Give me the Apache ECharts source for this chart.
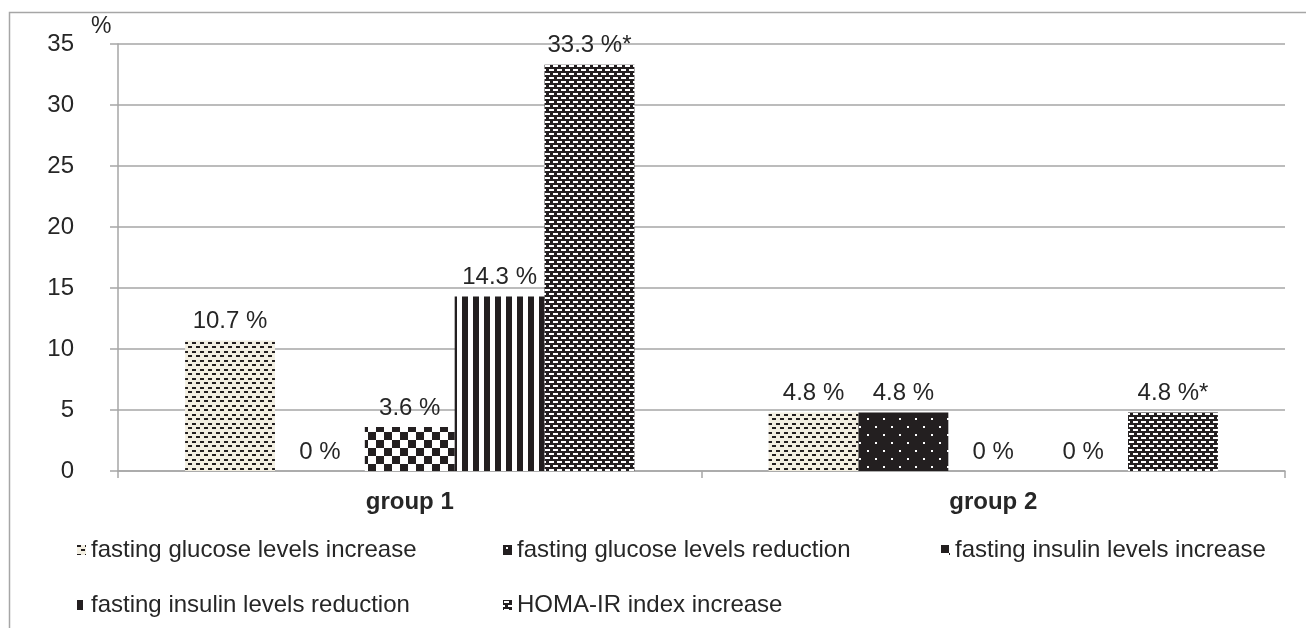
<!DOCTYPE html>
<html>
<head>
<meta charset="utf-8">
<script src="https://cdn.jsdelivr.net/npm/echarts@6/dist/echarts.min.js"></script>
<style>
  html, body { margin: 0; padding: 0; background: #fff; }
  #chartId { width: 1306px; height: 628px; }
</style>
</head>
<body>
<div id="chartId"></div>
<script>
// data
const categories = ['group 1', 'group 2'];
const seriesNames = [
  'fasting glucose levels increase',
  'fasting glucose levels reduction',
  'fasting insulin levels increase',
  'fasting insulin levels reduction',
  'HOMA-IR index increase'
];
const glucoseIncrease = [10.7, 4.8];
const glucoseReduction = [0, 4.8];
const insulinIncrease = [3.6, 0];
const insulinReduction = [14.3, 0];
const homaIncrease = [33.3, 4.8];
const homaMarks = ['*', '*'];
const yTicks = [0, 5, 10, 15, 20, 25, 30, 35];

const seriesValues = [glucoseIncrease, glucoseReduction, insulinIncrease, insulinReduction, homaIncrease];
const seriesMarks = [null, null, null, null, homaMarks];

// 坐标轴的颜色
const axisColor = '#a6a6a6';
const textColor = '#262626';
const fontFamily = '"Liberation Sans", Arial, sans-serif';

// fill patterns
function makeTile(w, h, bg, fg, draw) {
  const c = document.createElement('canvas');
  c.width = w;
  c.height = h;
  const ctx = c.getContext('2d');
  ctx.fillStyle = bg;
  ctx.fillRect(0, 0, w, h);
  ctx.fillStyle = fg;
  draw(ctx);
  return c;
}
const patterns = [
  // cream with black dashes
  makeTile(8, 9, '#f3efe2', '#231f20', ctx => {
    ctx.fillRect(0, 0, 4, 2);
    ctx.fillRect(4, 4, 4, 2);
  }),
  // black with white dots
  makeTile(16, 16, '#231f20', '#ffffff', ctx => {
    ctx.fillRect(3, 2, 2, 2);
    ctx.fillRect(11, 10, 2, 2);
  }),
  // checkerboard
  makeTile(16, 16, '#ffffff', '#231f20', ctx => {
    ctx.fillRect(0, 0, 8, 8);
    ctx.fillRect(8, 8, 8, 8);
  }),
  // vertical stripes
  makeTile(11, 4, '#ffffff', '#231f20', ctx => {
    ctx.fillRect(0, 0, 6, 4);
  }),
  // black with white dashes
  makeTile(8, 8, '#231f20', '#ffffff', ctx => {
    ctx.fillRect(1, 1, 5, 2);
    ctx.fillRect(5, 5, 5, 2);
    ctx.fillRect(-3, 5, 5, 2);
  })
];

const legendPos = [
  { left: 77, top: 538 },
  { left: 503, top: 538 },
  { left: 941, top: 538 },
  { left: 77, top: 593 },
  { left: 503, top: 593 }
];

const myChart = echarts.init(document.getElementById('chartId'));

const option = {
  animation: false,
  backgroundColor: '#ffffff',
  textStyle: { fontFamily: fontFamily },
  grid: { left: 118, right: 21, top: 44, bottom: 157, containLabel: false },
  legend: seriesNames.map((n, i) => ({
    data: [n],
    left: legendPos[i].left,
    top: legendPos[i].top,
    padding: 0,
    itemWidth: 9,
    itemHeight: 10,
    icon: 'rect',
    textStyle: { fontSize: 24, color: textColor, fontFamily: fontFamily }
  })),
  graphic: [
    {
      type: 'rect',
      shape: { x: 9.5, y: 12.5, width: 1400, height: 800 },
      style: { fill: 'none', stroke: axisColor, lineWidth: 1.5 },
      silent: true
    },
    {
      type: 'text',
      left: 91,
      top: 15,
      style: { text: '%', fontSize: 23, fill: textColor, fontFamily: fontFamily }
    }
  ],
  xAxis: {
    type: 'category',
    data: categories,
    axisLine: { lineStyle: { color: axisColor, width: 1.5 } },
    axisTick: { show: true, length: 7, lineStyle: { color: axisColor, width: 1.5 } },
    axisLabel: {
      margin: 19,
      fontSize: 24,
      fontWeight: 'bold',
      color: textColor,
      fontFamily: fontFamily
    }
  },
  yAxis: {
    type: 'value',
    min: yTicks[0],
    max: yTicks[yTicks.length - 1],
    interval: 5,
    axisLine: { show: true, lineStyle: { color: axisColor, width: 1.5 } },
    axisTick: { show: true, length: 8, lineStyle: { color: axisColor, width: 1.5 } },
    axisLabel: {
      margin: 44,
      fontSize: 24,
      color: textColor,
      fontFamily: fontFamily
    },
    splitLine: { lineStyle: { color: axisColor, width: 1.5 } }
  },
  series: seriesNames.map((n, i) => ({
    name: n,
    type: 'bar',
    data: seriesValues[i],
    barGap: 0,
    barCategoryGap: '23%',
    itemStyle: {
      color: { image: patterns[i], repeat: 'repeat' }
    },
    label: {
      show: true,
      position: 'top',
      distance: 7,
      fontSize: 24,
      color: textColor,
      fontFamily: fontFamily,
      formatter: p => p.value + ' %' + (seriesMarks[i] ? seriesMarks[i][p.dataIndex] : '')
    }
  }))
};

myChart.setOption(option);
</script>
</body>
</html>
